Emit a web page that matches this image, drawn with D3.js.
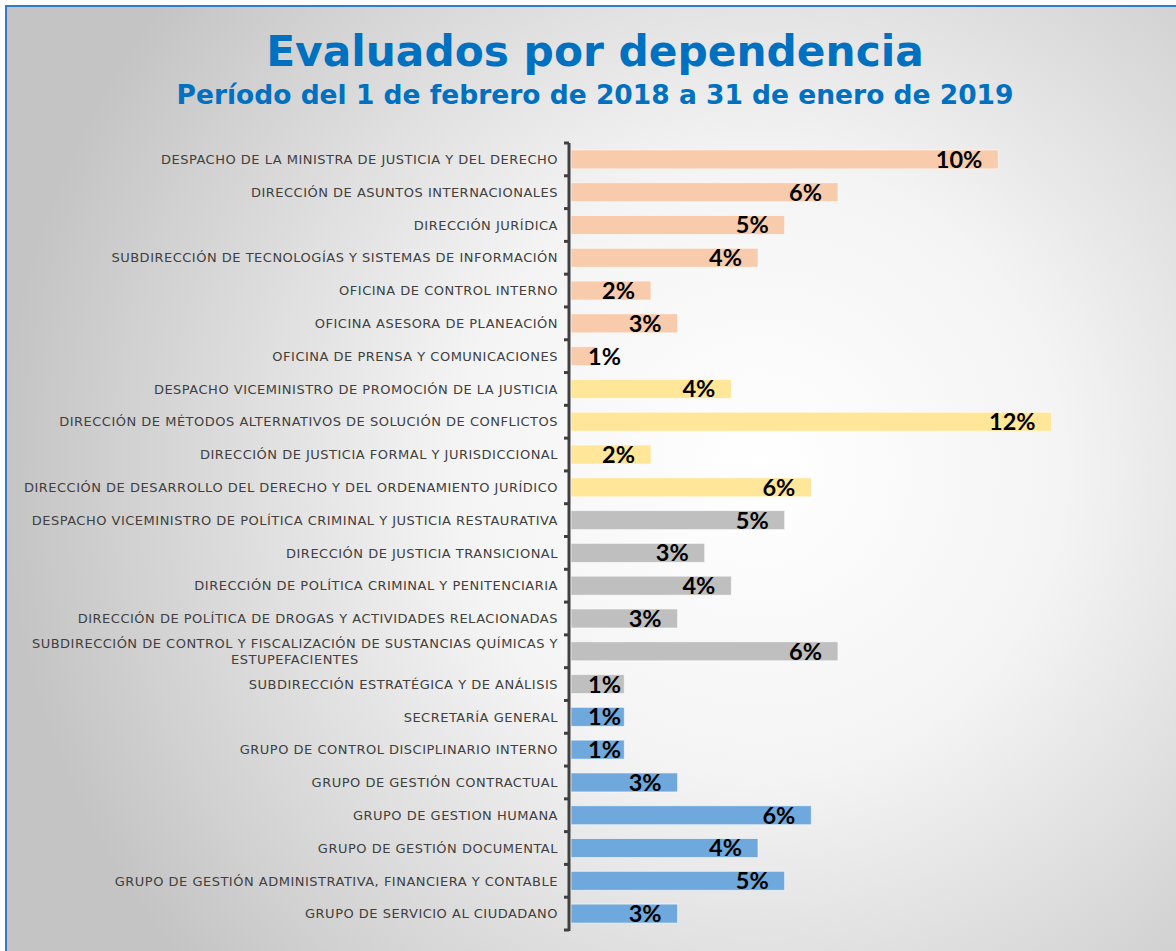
<!DOCTYPE html>
<html>
<head>
<meta charset="utf-8">
<script src="https://cdn.jsdelivr.net/npm/d3@7"></script>
<style>
  body { margin: 0; background: #fff; }
  svg { display: block; }
</style>
</head>
<body>
<div id="chart"></div>
<script>
// dependencias (top to bottom)
var dependencias = [
  "DESPACHO DE LA MINISTRA DE JUSTICIA Y DEL DERECHO",
  "DIRECCIÓN DE ASUNTOS INTERNACIONALES",
  "DIRECCIÓN JURÍDICA",
  "SUBDIRECCIÓN DE TECNOLOGÍAS Y SISTEMAS DE INFORMACIÓN",
  "OFICINA DE CONTROL INTERNO",
  "OFICINA ASESORA DE PLANEACIÓN",
  "OFICINA DE PRENSA Y COMUNICACIONES",
  "DESPACHO VICEMINISTRO DE PROMOCIÓN DE LA JUSTICIA",
  "DIRECCIÓN DE MÉTODOS ALTERNATIVOS DE SOLUCIÓN DE CONFLICTOS",
  "DIRECCIÓN DE JUSTICIA FORMAL Y JURISDICCIONAL",
  "DIRECCIÓN DE DESARROLLO DEL DERECHO Y DEL ORDENAMIENTO JURÍDICO",
  "DESPACHO VICEMINISTRO DE POLÍTICA CRIMINAL Y JUSTICIA RESTAURATIVA",
  "DIRECCIÓN DE JUSTICIA TRANSICIONAL",
  "DIRECCIÓN DE POLÍTICA CRIMINAL Y PENITENCIARIA",
  "DIRECCIÓN DE POLÍTICA DE DROGAS Y ACTIVIDADES RELACIONADAS",
  "SUBDIRECCIÓN DE CONTROL Y FISCALIZACIÓN DE SUSTANCIAS QUÍMICAS Y|ESTUPEFACIENTES",
  "SUBDIRECCIÓN ESTRATÉGICA Y DE ANÁLISIS",
  "SECRETARÍA GENERAL",
  "GRUPO DE CONTROL DISCIPLINARIO INTERNO",
  "GRUPO DE GESTIÓN CONTRACTUAL",
  "GRUPO DE GESTION HUMANA",
  "GRUPO DE GESTIÓN DOCUMENTAL",
  "GRUPO DE GESTIÓN ADMINISTRATIVA, FINANCIERA Y CONTABLE",
  "GRUPO DE SERVICIO AL CIUDADANO"
];

// porcentaje de evaluados
var porcentajes = [10.26, 6.41, 5.13, 4.49, 1.92, 2.56, 0.64, 3.85, 11.54, 1.92, 5.77, 5.13,
                   3.21, 3.85, 2.56, 6.41, 1.28, 1.28, 1.28, 2.56, 5.77, 4.49, 5.13, 2.56];

// grupo (despacho) al que pertenece cada dependencia
var grupos = ["ministra","ministra","ministra","ministra","ministra","ministra","ministra",
              "promocion","promocion","promocion","promocion",
              "criminal","criminal","criminal","criminal","criminal","criminal",
              "secretaria","secretaria","secretaria","secretaria","secretaria","secretaria","secretaria"];

var grupoNombres = ["ministra","promocion","criminal","secretaria"];
var grupoColores = ["#f8cbad","#ffe699","#bfbfbf","#6fa8dc"];

var width = 1176, height = 951;
var x0 = 571;

var data = dependencias.map(function(d, i) {
  return {name: d, value: porcentajes[i], grupo: grupos[i]};
});

var svg = d3.select("#chart").append("svg")
  .attr("width", width)
  .attr("height", height);

var defs = svg.append("defs");
var grad = defs.append("radialGradient")
  .attr("id", "bg")
  .attr("gradientUnits", "userSpaceOnUse")
  .attr("cx", 760).attr("cy", 470).attr("r", 760);
grad.append("stop").attr("offset", "0%").attr("stop-color", "#ffffff");
grad.append("stop").attr("offset", "40%").attr("stop-color", "#f4f4f4");
grad.append("stop").attr("offset", "100%").attr("stop-color", "#c4c4c4");

svg.append("rect")
  .attr("x", 6).attr("y", 6)
  .attr("width", 1300).attr("height", 1100)
  .attr("fill", "url(#bg)")
  .attr("stroke", "#2e7ccb")
  .attr("stroke-width", 2);

// titles
svg.append("text")
  .attr("x", 595).attr("y", 66)
  .attr("text-anchor", "middle")
  .attr("font-family", "DejaVu Sans, Verdana, sans-serif")
  .attr("font-weight", "bold")
  .attr("font-size", 42.3)
  .attr("fill", "#0070c0")
  .text("Evaluados por dependencia");

svg.append("text")
  .attr("x", 595).attr("y", 104)
  .attr("text-anchor", "middle")
  .attr("font-family", "DejaVu Sans, Verdana, sans-serif")
  .attr("font-weight", "bold")
  .attr("font-size", 26.5)
  .attr("fill", "#0070c0")
  .text("Período del 1 de febrero de 2018 a 31 de enero de 2019");

var x = d3.scaleLinear()
  .domain([0, 14])
  .range([x0, x0 + 41.65 * 14]);

var y = d3.scaleBand()
  .domain(dependencias)
  .range([143, 930])
  .paddingInner(0.42)
  .paddingOuter(0.21);

var color = d3.scaleOrdinal().domain(grupoNombres).range(grupoColores);

// bars
svg.append("g").selectAll("rect")
  .data(data).enter().append("rect")
  .attr("x", x(0))
  .attr("y", function(d) { return y(d.name); })
  .attr("width", function(d) { return x(d.value) - x(0); })
  .attr("height", y.bandwidth())
  .attr("fill", function(d) { return color(d.grupo); })
  .attr("stroke", "#ffffff")
  .attr("stroke-opacity", 0.6)
  .attr("stroke-width", 1);

// category labels
var lab = svg.append("g").selectAll("text")
  .data(data).enter().append("text")
  .attr("text-anchor", "end")
  .attr("font-family", "DejaVu Sans, Verdana, sans-serif")
  .attr("font-size", 13)
  .attr("letter-spacing", 0.5)
  .attr("fill", "#404040")
  .attr("transform", function(d) {
    return "translate(558," + (y(d.name) + y.bandwidth() / 2) + ")";
  });

lab.each(function(d) {
  var lines = d.name.split("|");
  var t = d3.select(this);
  if (lines.length == 1) {
    t.append("tspan").attr("x", 0).attr("dy", "0.36em").text(lines[0]);
  } else {
    // wrapped label, both lines centred on the first line
    t.attr("text-anchor", "middle");
    var l1 = t.append("tspan").attr("dy", "-0.28em").text(lines[0]);
    var w = l1.node().getComputedTextLength();
    l1.attr("x", -w / 2);
    t.append("tspan").attr("x", -w / 2).attr("dy", "1.25em").text(lines[1]);
  }
});

// value labels
var fmt = function(v) { return d3.format(".0f")(v) + "%"; };
svg.append("g").selectAll("text")
  .data(data).enter().append("text")
  .attr("x", function(d) { return Math.max(x(d.value) - 16, x0 + 50); })
  .attr("y", function(d) { return y(d.name) + y.bandwidth() / 2; })
  .attr("dy", "0.36em")
  .attr("text-anchor", "end")
  .attr("font-family", "Lato, Open Sans, sans-serif")
  .attr("font-weight", "bold")
  .attr("font-size", 23.5)
  .attr("fill", "#000")
  .text(function(d) { return fmt(d.value); });

// axis line with ticks at category boundaries
var axis = svg.append("g");
axis.append("line")
  .attr("x1", 569).attr("x2", 569)
  .attr("y1", 143).attr("y2", 931)
  .attr("stroke", "#404040")
  .attr("stroke-width", 3);

var bounds = d3.range(dependencias.length + 1).map(function(i) {
  return 143 + i * y.step();
});
axis.selectAll(".tk")
  .data(bounds).enter().append("line")
  .attr("class", "tk")
  .attr("x1", 564).attr("x2", 569)
  .attr("y1", function(d) { return d; })
  .attr("y2", function(d) { return d; })
  .attr("stroke", "#404040")
  .attr("stroke-width", 3);
</script>
</body>
</html>
